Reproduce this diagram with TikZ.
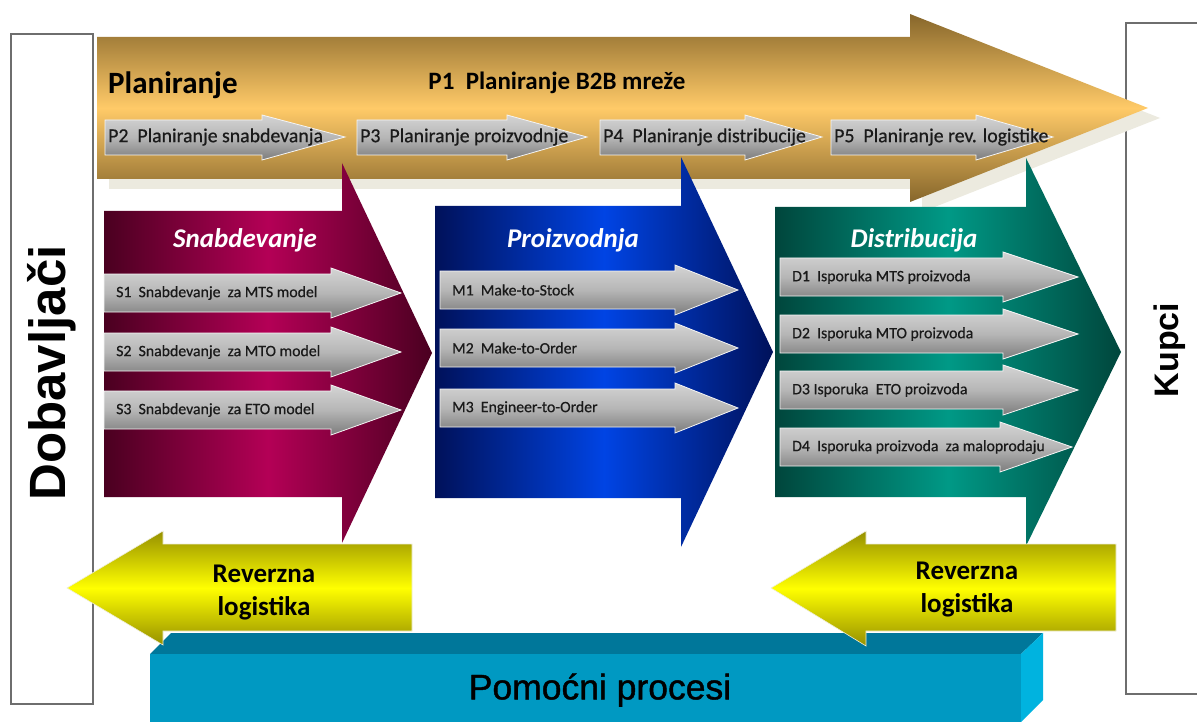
\documentclass[tikz,border=0pt]{standalone}
\usepackage{fontspec}
\setmainfont{Carlito}
\newfontfamily\arialfont{Liberation Sans}
\newfontfamily\arialheavy[FakeBold=1.2]{Liberation Sans}
\newfontfamily\itemfont[FakeBold=0.6]{Carlito}
\definecolor{ink}{HTML}{1A1A1A}
\definecolor{frame}{HTML}{6E6E6E}
\definecolor{golddark}{HTML}{86662B}
\definecolor{goldlight}{HTML}{FFCA68}
\definecolor{goldshadow}{HTML}{ECEADF}
\definecolor{maroondark}{HTML}{4A0020}
\definecolor{maroonlight}{HTML}{B40056}
\definecolor{bluedark}{HTML}{00115A}
\definecolor{bluelight}{HTML}{0044E4}
\definecolor{tealdark}{HTML}{00463C}
\definecolor{teallight}{HTML}{009986}
\definecolor{grayhi}{HTML}{D4D4D4}
\definecolor{graymid}{HTML}{B6B6B6}
\definecolor{graylo}{HTML}{7C7C7C}
\definecolor{yellowdark}{HTML}{969000}
\definecolor{yellowlight}{HTML}{FFFF00}
\definecolor{cyanfront}{HTML}{0099C2}
\definecolor{cyantop}{HTML}{00779A}
\definecolor{cyanside}{HTML}{00B3DF}
\tikzset{sidebox/.style={draw=frame,line width=1.2pt,fill=white},
sidetxt/.style={font={\arialfont\bfseries\fontsize{51}{58}\selectfont},text=black},
planarrow/.style={top color=golddark,bottom color=golddark,middle color=goldlight},
supply/.style={left color=maroondark,right color=maroondark,middle color=maroonlight},
make/.style={left color=bluedark,right color=bluedark,middle color=bluelight},
deliver/.style={left color=tealdark,right color=tealdark,middle color=teallight},
grayarrow/.style={draw=white!92!gray,line width=.8pt,top color=grayhi,bottom color=graylo,middle color=graymid},
revarrow/.style={draw=white!85!yellowdark,line width=.6pt,top color=yellowdark,bottom color=yellowdark,middle color=yellowlight},
plantitle/.style={font={\bfseries\fontsize{31}{37}\selectfont},text=black,inner sep=0pt},
b2btxt/.style={font={\bfseries\fontsize{25}{30}\selectfont},text=black},
ptxt/.style={anchor=west,inner sep=0pt,text=ink,font={\itemfont\fontsize{19.8}{23}\selectfont}},
itemtxt/.style={anchor=west,inner sep=0pt,text=ink,font={\itemfont\fontsize{15.8}{19}\selectfont}},
grouptitle/.style={font={\bfseries\itshape\fontsize{27}{32}\selectfont},text=white},
revtxt/.style={font={\bfseries\fontsize{27}{33}\selectfont},align=center,text=black},
supporttxt/.style={font={\arialheavy\fontsize{35.5}{42}\selectfont},text=black}}
\begin{document}
\begin{tikzpicture}[x=1pt,y=-1pt]
\useasboundingbox (0,0) rectangle (1197,722);
% suppliers and customers
\draw[sidebox] (11,34) rectangle (93,704);
\draw[sidebox] (1126,23) rectangle (1215,694);
\node[sidetxt,rotate=90] (dob) at (52,373) {Dobavljači};
\node[sidetxt,rotate=90,font={\arialfont\bfseries\fontsize{34}{40}\selectfont}] (kup) at (1170,350) {Kupci};
% planning
\fill[goldshadow] (109,47) -- (922,47) -- (922,24) -- (1160,118) -- (922,212) -- (922,189) -- (109,189) -- cycle;
\path[planarrow] (97,37) -- (910,37) -- (910,14) -- (1148,108) -- (910,202) -- (910,179) -- (97,179) -- cycle;
\node[plantitle,anchor=west] (plan) at (108,85) {Planiranje};
\node[b2btxt] (b2b) at (557,83) {P1~ Planiranje B2B mreže};
\foreach \xa/\xb/\xc/\txt [count=\i from 2] in {105/262/345/P2~ Planiranje snabdevanja,357/507/587/P3~ Planiranje proizvodnje,600/745/822/P4~ Planiranje distribucije,831/976/1053/P5~ Planiranje rev. logistike}{
\path[grayarrow] (\xa,120) -- (\xb,120) -- (\xb,115) -- (\xc,137) -- (\xb,160) -- (\xb,155) -- (\xa,155) -- cycle;
\node[ptxt] (p\i) at ({\xa+3},137) {\txt};}
% supply, make, deliver
\path[supply] (104,211) -- (342,211) -- (342,163) -- (432,353) -- (342,543) -- (342,497) -- (104,497) -- cycle;
\path[make] (435,206) -- (681,206) -- (681,157) -- (773,352) -- (681,547) -- (681,498) -- (435,498) -- cycle;
\path[deliver] (775,207) -- (1026,207) -- (1026,158) -- (1121,352) -- (1026,546) -- (1026,497) -- (775,497) -- cycle;
\node[grouptitle] (snab) at (245,240) {Snabdevanje};
\node[grouptitle] (proi) at (573,240) {Proizvodnja};
\node[grouptitle] (dist) at (914,240) {Distribucija};
\foreach \xa/\xb/\xc/\y/\nm/\txt in {104/331/401/293/s1/S1~ Snabdevanje~ za MTS model,104/331/401/352/s2/S2~ Snabdevanje~ za MTO model,104/331/401/410/s3/S3~ Snabdevanje~ za ETO model,
440/675/738/290/m1/M1~ Make-to-Stock,440/675/738/348/m2/M2~ Make-to-Order,440/675/738/408/m3/M3~ Engineer-to-Order,
780/1003/1078/277/d1/D1~ Isporuka MTS proizvoda,780/1003/1078/334/d2/D2~ Isporuka MTO proizvoda,780/1003/1078/390/d3/D3 Isporuka~ ETO proizvoda,780/1000/1072/447/d4/D4~ Isporuka proizvoda~ za maloprodaju}{
\path[grayarrow] (\xa,{\y-19}) -- (\xb,{\y-19}) -- (\xb,{\y-25}) -- (\xc,\y) -- (\xb,{\y+25}) -- (\xb,{\y+19}) -- (\xa,{\y+19}) -- cycle;
\node[itemtxt] (\nm) at ({\xa+12},\y) {\txt};}
% support processes
\fill[cyantop] (150,654) -- (171,633) -- (1043,633) -- (1021,654) -- cycle;
\fill[cyanside] (1021,654) -- (1043,633) -- (1043,700) -- (1021,722) -- cycle;
\fill[cyanfront] (150,654) rectangle (1021,722);
\node[supporttxt] (pom) at (600,690) {Pomoćni procesi};
% reverse logistics
\path[revarrow] (412,544) -- (163,544) -- (163,531) -- (67,588) -- (163,645) -- (163,631) -- (412,631) -- cycle;
\path[revarrow] (1116,544) -- (866,544) -- (866,531) -- (771,588) -- (866,646) -- (866,631) -- (1116,631) -- cycle;
\node[revtxt] (rev1) at (264,593) {Reverzna\\logistika};
\node[revtxt] (rev2) at (967,590) {Reverzna\\logistika};
\end{tikzpicture}
\end{document}
